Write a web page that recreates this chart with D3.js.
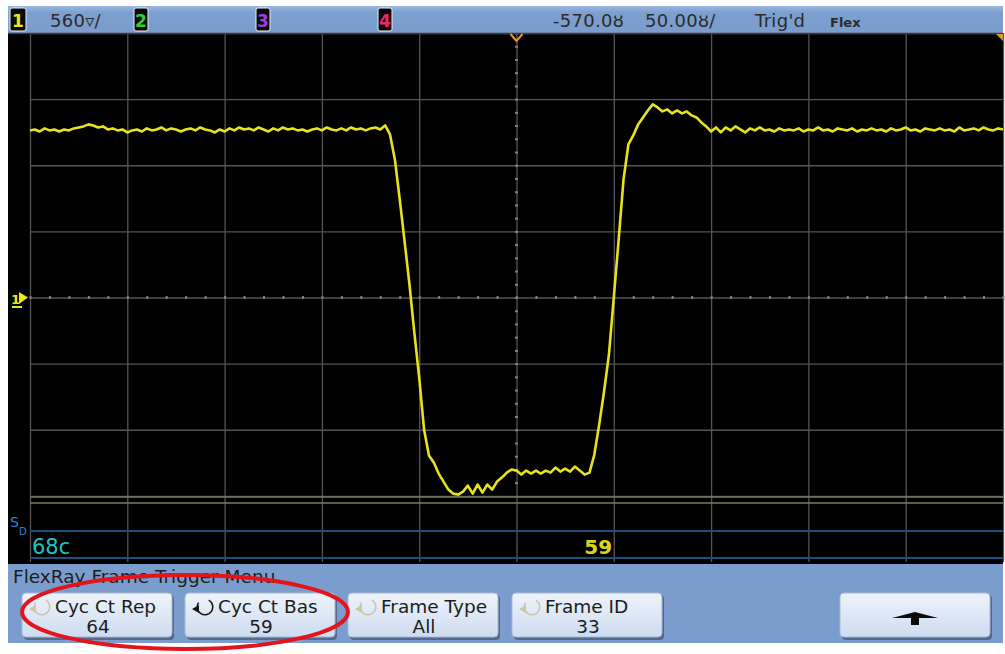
<!DOCTYPE html>
<html>
<head>
<meta charset="utf-8">
<script src="https://cdn.jsdelivr.net/npm/d3@7/dist/d3.min.js"></script>
<style>
body{margin:0;background:#fff;}
svg{display:block;font-family:"DejaVu Sans",Verdana,sans-serif;}
</style>
</head>
<body>
<script>
// channel 1 record, 2.5 ns per sample, values in mV
const sampleStartNs = -820;
const sampleStepNs = 2.5;
const ch1mV = [
 1415,1423,1406,1432,1415,1423,1406,1423,1415,1432,
 1440,1449,1466,1457,1440,1449,1423,1432,1415,1423,
 1398,1415,1423,1406,1432,1415,1423,1440,1415,1432,
 1423,1406,1423,1432,1415,1440,1423,1415,1398,1423,
 1406,1432,1415,1440,1423,1432,1415,1440,1423,1406,
 1432,1415,1440,1423,1432,1415,1423,1406,1423,1432,
 1415,1440,1423,1415,1432,1415,1440,1423,1432,1415,
 1432,1440,1423,
 1457,1381,1169,830,474,110,-297,-678,-1118,-1339,
 -1398,-1491,-1559,-1627,-1661,-1669,-1644,-1593,-1661,-1584,
 -1652,-1584,-1627,-1559,-1525,-1483,-1457,-1466,-1500,-1466,
 -1491,-1466,-1491,-1466,-1483,-1440,-1474,-1449,-1474,-1432,
 -1466,-1500,-1483,-1330,-1076,-796,-483,0,491,1000,
 1296,1372,1466,1525,1584,1635,1610,1576,1593,1559,
 1584,1559,1576,1542,1525,1483,1449,1406,1440,1398,
 1440,1415,1449,
 1423,1398,1432,1415,1440,1415,1423,1406,1432,1415,
 1423,1415,1432,1406,1423,1415,1440,1415,1423,1406,
 1432,1423,1415,1432,1406,1423,1415,1432,1415,1423,
 1406,1432,1415,1423,1440,1415,1423,1406,1432,1423,
 1415,1432,1415,1423,1406,1440,1415,1423,1432,1415,
 1440,1423,1415,1432,1423
];

const gridTimeNs = [-820,-770,-720,-670,-620,-570,-520,-470,-420,-370,-320];
const gridVoltMv = [2240,1680,1120,560,0,-560,-1120,-1680];
const minorTimeNs = d3.range(-820, -319, 10);
const minorVoltMv = d3.range(-2240, 2241, 112);

const channelNames = ["1","2","3","4"];
const channelColors = ["#e8e81a","#2fd02f","#9a3ce0","#e8286e"];
const statusTexts = ["560\u25BF/","-570.0\u0223","50.00\u0223/","Trig'd","Flex"];

const decodeTexts = ["68c","59"];
const decodeTimeNs = [-820,-528];

const menuTitle = "FlexRay Frame Trigger Menu";
const softkeyLabels = ["Cyc Ct Rep","Cyc Ct Bas","Frame Type","Frame ID",""];
const softkeyValues = ["64","59","All","33",""];

const W = 1005, H = 654;
const x = d3.scaleLinear().domain([-820, -320]).range([30, 1003]);
const y = d3.scaleLinear().domain([-2240, 2240]).range([562, 33]);

const svg = d3.select("body").append("svg").attr("width", W).attr("height", H);
const defs = svg.append("defs");
const g1 = defs.append("linearGradient").attr("id","btn").attr("x1",0).attr("y1",0).attr("x2",0).attr("y2",1);
g1.append("stop").attr("offset","0%").attr("stop-color","#eef3fb");
g1.append("stop").attr("offset","100%").attr("stop-color","#cddcf0");
const g2 = defs.append("linearGradient").attr("id","bar").attr("x1",0).attr("y1",0).attr("x2",0).attr("y2",1);
g2.append("stop").attr("offset","0%").attr("stop-color","#9ab6de");
g2.append("stop").attr("offset","25%").attr("stop-color","#7d9fcf");
g2.append("stop").attr("offset","100%").attr("stop-color","#7b9dcd");

// screen body
svg.append("rect").attr("x",8).attr("y",33).attr("width",995).attr("height",531).attr("fill","#000");

// grid
const grid = svg.append("g").attr("class","grid");
grid.append("g").attr("transform","translate(0,562)")
	.call(d3.axisBottom(x).tickValues(gridTimeNs).tickSize(-529).tickFormat(""))
	.call(g => g.select(".domain").remove())
	.selectAll("line").attr("stroke","#555").attr("stroke-width",1.3);
grid.append("g").attr("transform","translate(30,0)")
	.call(d3.axisLeft(y).tickValues(gridVoltMv).tickSize(-973).tickFormat(""))
	.call(g => g.select(".domain").remove())
	.selectAll("line").attr("stroke","#555").attr("stroke-width",1.3);
// centre ticks
grid.append("g").attr("transform","translate(0," + (y(0) + 1.5) + ")")
	.call(d3.axisTop(x).tickValues(minorTimeNs).tickSize(3).tickFormat(""))
	.call(g => g.select(".domain").remove())
	.selectAll("line").attr("stroke","#808080").attr("stroke-width",2);
grid.append("g").attr("transform","translate(" + (x(-570) - 1.5) + ",0)")
	.call(d3.axisRight(y).tickValues(minorVoltMv.filter(v => v > -1680)).tickSize(3).tickFormat(""))
	.call(g => g.select(".domain").remove())
	.selectAll("line").attr("stroke","#808080").attr("stroke-width",2);

// serial decode band
svg.append("line").attr("x1",30).attr("x2",1003).attr("y1",497).attr("y2",497).attr("stroke","#7c7a58").attr("stroke-width",1.5);
svg.append("line").attr("x1",30).attr("x2",1003).attr("y1",503).attr("y2",503).attr("stroke","#7c7a58").attr("stroke-width",1.5);
[531,558].forEach(v => svg.append("line").attr("x1",30).attr("x2",1003).attr("y1",v).attr("y2",v).attr("stroke","#1d4f7c").attr("stroke-width",2));
svg.append("text").attr("x",x(decodeTimeNs[0]) + 2).attr("y",554).attr("fill","#1fc2c6").attr("font-size",21).text(decodeTexts[0]);
svg.append("text").attr("x",x(decodeTimeNs[1])).attr("y",554).attr("text-anchor","middle").attr("fill","#d9d51c").attr("font-size",20).attr("font-weight","bold").text(decodeTexts[1]);
svg.append("text").attr("x",10).attr("y",527).attr("fill","#2a8ad4").attr("font-size",14).text("S");
svg.append("text").attr("x",19).attr("y",535).attr("fill","#2a8ad4").attr("font-size",10).text("D");

// trace
const line = d3.line()
	.x((d, i) => x(sampleStartNs + i * sampleStepNs))
	.y(d => y(d))
	.curve(d3.curveLinear);
svg.append("path").datum(ch1mV).attr("d", line)
	.attr("fill","none").attr("stroke","#e6e31c").attr("stroke-width",2.6).attr("stroke-linejoin","round");

// ground marker
svg.append("text").attr("x",11).attr("y",304).attr("fill","#e8e81a").attr("font-size",13).attr("font-weight","bold").text("1");
svg.append("path").attr("d","M19,292L28," + y(0) + "L19,304Z").attr("fill","#e8e81a");
svg.append("rect").attr("x",12).attr("y",306).attr("width",10).attr("height",2).attr("fill","#e8e81a");

// top status bar
svg.append("rect").attr("x",8).attr("y",6).attr("width",995).attr("height",27).attr("fill","url(#bar)");
svg.append("line").attr("x1",8).attr("x2",1003).attr("y1",33.5).attr("y2",33.5).attr("stroke","#3c3c3c").attr("stroke-width",1.5);
const chX = [10, 134, 256, 378];
channelNames.forEach((c, i) => {
	svg.append("rect").attr("x",chX[i]).attr("y",8).attr("width",i == 0 ? 16 : 14).attr("height",23).attr("rx",2)
		.attr("fill","#0a0a0a").attr("stroke","#e8eef6").attr("stroke-width",1);
	svg.append("text").attr("x",chX[i] + (i == 0 ? 8 : 7)).attr("y",27).attr("text-anchor","middle")
		.attr("fill",channelColors[i]).attr("font-size",17).attr("font-weight","bold").text(c);
});
const stX = [50, 553, 645, 755, 830];
statusTexts.forEach((t, i) => {
	svg.append("text").attr("x",stX[i]).attr("y",27).attr("fill","#2a2a2a")
		.attr("font-size",i == 4 ? 13 : 18).attr("letter-spacing",i == 4 ? 0 : 0.3)
		.attr("font-weight",i == 4 ? "bold" : "normal").text(t);
});
// trigger markers
svg.append("path").attr("d","M" + (x(-570) - 6) + ",34L" + x(-570) + ",41L" + (x(-570) + 6) + ",34").attr("fill","none").attr("stroke","#f0922a").attr("stroke-width",2);
svg.append("path").attr("d","M996,34L1003,34L1003,41Z").attr("fill","#f0922a");

// softkey menu
svg.append("rect").attr("x",8).attr("y",564).attr("width",995).attr("height",79).attr("fill","#7b9dcd");
svg.append("text").attr("x",13).attr("y",583).attr("fill","#1e1e1e").attr("font-size",18.5).text(menuTitle);
const keyX = [22, 185, 348, 512, 840];
const iconOn = [false, true, false, false];
const arc = d3.arc().innerRadius(7).outerRadius(8.6).startAngle(0.5).endAngle(5.3);
keyX.forEach((kx, i) => {
	const k = svg.append("g").attr("transform","translate(" + kx + ",593)");
	k.append("rect").attr("x",2).attr("y",2).attr("width",150).attr("height",45).attr("rx",4).attr("fill","#56698a");
	k.append("rect").attr("width",150).attr("height",44).attr("rx",4).attr("fill","url(#btn)").attr("stroke","#a9bad2").attr("stroke-width",1);
	if (i < 4) {
		const col = iconOn[i] ? "#161616" : "#cbc6a4";
		k.append("path").attr("d",arc()).attr("transform","translate(20,14)").attr("fill",col);
		k.append("path").attr("d","M8,16L15,12L15,20Z").attr("transform","translate(-1,0)").attr("fill",col);
		k.append("text").attr("x",33).attr("y",20).attr("fill","#1c1c1c").attr("font-size",18.5).text(softkeyLabels[i]);
		k.append("text").attr("x",76).attr("y",40).attr("text-anchor","middle").attr("fill","#1c1c1c").attr("font-size",18.5).text(softkeyValues[i]);
	} else {
		k.append("path").attr("d","M52,25L75,19L98,25Z").attr("fill","#0a0a0a");
		k.append("rect").attr("x",71).attr("y",25).attr("width",8).attr("height",7).attr("fill","#0a0a0a");
	}
});

// highlight ellipse
svg.append("ellipse").attr("cx",185).attr("cy",612).attr("rx",163).attr("ry",37)
	.attr("fill","none").attr("stroke","#e4141a").attr("stroke-width",4);
</script>
</body>
</html>
